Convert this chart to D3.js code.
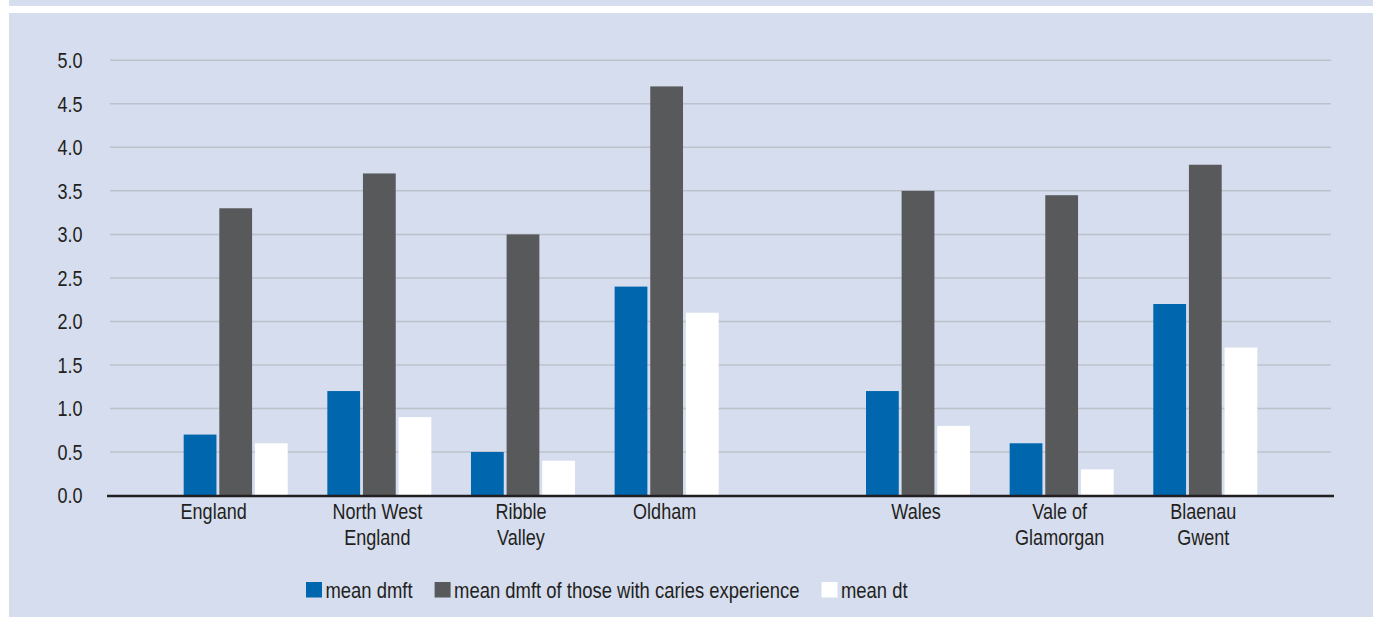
<!DOCTYPE html>
<html>
<head>
<meta charset="utf-8">
<script src="https://cdn.jsdelivr.net/npm/d3@7"></script>
<style>
  html, body { margin: 0; padding: 0; background: #d5ddee; }
  svg { display: block; }
  text { font-family: "Liberation Sans", Arial, sans-serif; fill: #231f20; white-space: pre; }
</style>
</head>
<body>
<svg id="chart" width="1373" height="617"></svg>
<script>
// Areas, split into display lines with "\n"; the England label carries trailing padding
const categories = ["England\u00a0\u00a0\u00a0\u00a0\u00a0\u00a0\u00a0\u00a0", "North West\nEngland", "Ribble\nValley", "Oldham",
                    "Wales", "Vale of\nGlamorgan", "Blaenau\nGwent"];
const nations = ["England", "England", "England", "England", "Wales", "Wales", "Wales"];

const seriesNames = ["mean dmft", "mean dmft of those with caries experience", "mean dt"];
const meanDmft = [0.7, 1.2, 0.5, 2.4, 1.2, 0.6, 2.2];
const meanDmftCaries = [3.3, 3.7, 3.0, 4.7, 3.5, 3.45, 3.8];
const meanDt = [0.6, 0.9, 0.4, 2.1, 0.8, 0.3, 1.7];

const yTicks = [0, 0.5, 1, 1.5, 2, 2.5, 3, 3.5, 4, 4.5, 5];

const seriesValues = [meanDmft, meanDmftCaries, meanDt];
const seriesColors = ["#0066ae", "#58595b", "#ffffff"];

const W = 1373, H = 617;
const FONT = 22;          // axis label size
const LEGEND_FONT = 22.5; // legend label size
const NARROW = 0.82;      // horizontal squeeze for a condensed look
const svg = d3.select("#chart");

// page background with white framing strips
svg.append("rect").attr("width", W).attr("height", H).attr("fill", "#d5ddee");
svg.append("rect").attr("x", 0).attr("y", 6).attr("width", W).attr("height", 7).attr("fill", "#ffffff");
svg.append("rect").attr("x", 0).attr("y", 0).attr("width", 9).attr("height", H).attr("fill", "#ffffff");

const plot = { left: 110, right: 1331, top: 60.3, bottom: 495.5 };

// group slot: England areas sit side by side, Welsh areas after a wider gap
const nationGap = 0.75;
const slotOf = (i) => i + (nations[i] === "Wales" ? nationGap : 0);

const x = d3.scaleLinear().domain([-0.875, 7.625]).range([plot.left, plot.right]);
const slotWidth = x(1) - x(0);
const groupWidth = slotWidth * 0.724;
const inner = d3.scaleBand().domain(d3.range(seriesNames.length))
  .range([-groupWidth / 2, groupWidth / 2]).paddingInner(0.08).paddingOuter(0);

const y = d3.scaleLinear().domain([0, 5]).range([plot.bottom, plot.top]);

// gridlines
svg.append("g").selectAll("line").data(yTicks.filter(t => t > 0)).join("line")
  .attr("x1", plot.left).attr("x2", plot.right)
  .attr("y1", d => y(d)).attr("y2", d => y(d))
  .attr("stroke", "#bcc2cc").attr("stroke-width", 1.5);

// y axis labels
const fmt = d3.format(".1f");
svg.append("g").selectAll("text").data(yTicks).join("text")
  .attr("transform", d => `translate(${plot.left - 27.5},${y(d)}) scale(${NARROW},1)`)
  .attr("text-anchor", "end").attr("dy", "0.35em")
  .attr("font-size", FONT).text(d => fmt(d));

// bars
const bars = [];
categories.forEach((c, i) => {
  seriesValues.forEach((vals, s) => bars.push({ i, s, v: vals[i] }));
});
svg.append("g").selectAll("rect").data(bars).join("rect")
  .attr("x", d => x(slotOf(d.i)) + inner(d.s))
  .attr("width", inner.bandwidth())
  .attr("y", d => y(d.v))
  .attr("height", d => y(0) - y(d.v))
  .attr("fill", d => seriesColors[d.s]);

// baseline
svg.append("line")
  .attr("x1", plot.left - 3).attr("x2", plot.right + 3)
  .attr("y1", y(0) + 0.5).attr("y2", y(0) + 0.5)
  .attr("stroke", "#231f20").attr("stroke-width", 2.5);

// category labels
const lab = svg.append("g").selectAll("text").data(categories).join("text")
  .attr("text-anchor", "middle")
  .attr("font-size", FONT)
  .attr("transform", (d, i) => `translate(${x(slotOf(i)) - 2},519) scale(${NARROW},1)`);
lab.selectAll("tspan").data(d => d.split("\n")).join("tspan")
  .attr("x", 0).attr("dy", (d, j) => j === 0 ? 0 : 26).text(d => d);

// legend
const legend = svg.append("g").attr("transform", "translate(306,590)");
let lx = 0;
seriesNames.forEach((name, s) => {
  const g = legend.append("g").attr("transform", `translate(${lx},0)`);
  g.append("rect").attr("x", 0).attr("y", -8).attr("width", 16).attr("height", 15.5)
    .attr("fill", seriesColors[s]);
  const t = g.append("text").attr("transform", `translate(19.5,7.5) scale(${NARROW},1)`)
    .attr("font-size", LEGEND_FONT).text(name);
  lx += 19.5 + t.node().getComputedTextLength() * NARROW + 22;
});
</script>
</body>
</html>
